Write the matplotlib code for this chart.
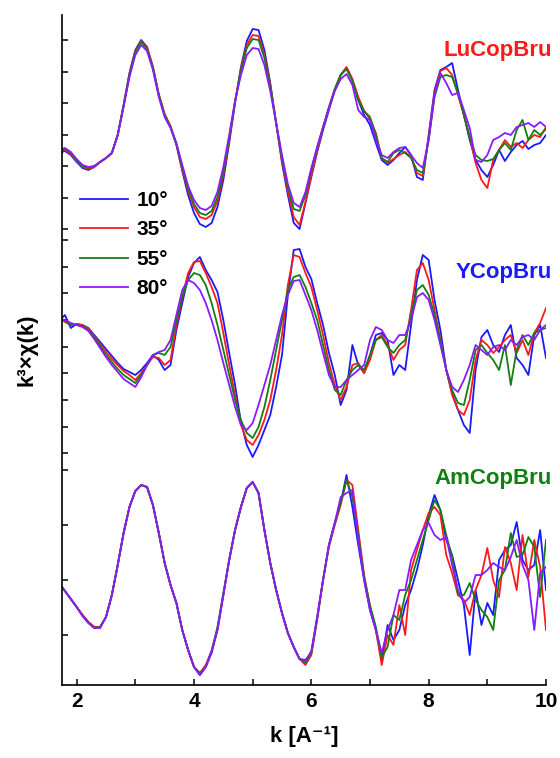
import matplotlib.pyplot as plt
import numpy as np

plt.rcParams['font.family'] = ['Liberation Sans', 'DejaVu Sans']
plt.rcParams['font.weight'] = 'bold'

# k grid [1/A]
k = np.concatenate([[1.75], np.round(np.arange(1.8, 10.05, 0.1), 2)])

angles = ['10°', '35°', '55°', '80°']
colors = ['#1a1aff', '#ff1a1a', '#108010', '#8a1aff']

# LuCopBru (arbitrary units)
lu_10 = [3, 4, 0, -7, -13, -15, -12, -7, -3, 2,
         20, 50, 82, 105, 115, 108, 88, 60, 40, 28,
         10, -16, -40, -58, -69, -72, -68, -52, -25, 12,
         52, 88, 114, 126, 125, 105, 72, 32, -8, -40,
         -68, -74, -48, -22, 3, 25, 45, 65, 80, 87,
         75, 55, 40, 30, 12, -5, -10, -5, 2, 8,
         0, -22, -25, 20, 65, 85, 88, 92, 65, 40,
         15, -5, -15, -22, -10, 5, -6, 3, 10, 14,
         6, 10, 12, 20]
lu_35 = [4, 5, 1, -6, -12, -14, -12, -7, -3, 2,
         20, 50, 81, 104, 114, 107, 88, 61, 41, 29,
         11, -14, -36, -52, -62, -64, -60, -46, -20, 15,
         53, 86, 110, 120, 119, 100, 70, 32, -6, -36,
         -62, -70, -47, -20, 5, 27, 47, 66, 80, 88,
         76, 58, 44, 36, 22, -3, -8, -4, 0, 3,
         -2, -18, -21, 18, 62, 84, 87, 80, 60, 40,
         18, -8, -25, -33, -5, 5, 15, 8, 12, 7,
         15, 20, 18, 28]
lu_55 = [5, 6, 2, -5, -11, -13, -11, -7, -3, 2,
         20, 49, 80, 103, 113, 106, 87, 60, 40, 28,
         11, -12, -34, -49, -58, -60, -56, -42, -17, 17,
         54, 84, 107, 116, 115, 97, 68, 32, -3, -32,
         -54, -56, -40, -15, 8, 28, 48, 66, 80, 86,
         74, 55, 44, 38, 20, -3, -7, 2, 5, 2,
         -3, -15, -18, 15, 58, 78, 80, 78, 62, 40,
         18, 0, -5, -6, -4, 5, 12, 5, 25, 35,
         15, 25, 20, 26]
lu_80 = [6, 7, 3, -4, -10, -12, -11, -7, -3, 2,
         20, 48, 78, 100, 110, 104, 85, 58, 38, 27,
         12, -10, -31, -45, -53, -55, -51, -37, -12, 20,
         54, 80, 100, 107, 106, 90, 64, 32, 0, -29,
         -48, -52, -37, -13, 8, 28, 47, 64, 76, 81,
         70, 45, 38, 35, 15, 0, -3, 3, 7, 8,
         0, -8, -13, 15, 60, 82, 72, 60, 62, 45,
         27, -5, -7, 0, 15, 18, 22, 20, 28, 30,
         32, 28, 33, 28]

# YCopBru
y_10 = [7, 10, -3, 1, 0, -3, -10, -17, -24, -31,
        -38, -44, -47, -50, -45, -38, -30, -35, -45, -40,
        -5, 22, 48, 62, 68, 55, 45, 33, 5, -28,
        -60, -97, -120, -132, -120, -105, -90, -62, -30, 30,
        75, 76, 58, 46, 22, 0, -28, -50, -80, -65,
        -20, -40, -48, -30, -10, -8, -15, -50, -40, -45,
        0, 45, 70, 65, 25, -5, -45, -68, -85, -100,
        -108, -45, -12, -5, -20, -27, -10, 0, -33, -40,
        -50, -10, 0, -33]
y_35 = [6, 3, 0, 1, 0, -4, -11, -19, -27, -34,
        -40, -46, -50, -55, -48, -40, -32, -33, -40, -35,
        0, 28, 52, 63, 64, 52, 38, 22, -8, -40,
        -70, -100, -115, -120, -110, -95, -75, -45, -10, 40,
        70, 68, 52, 38, 15, -10, -38, -60, -75, -62,
        -40, -38, -48, -35, -15, -10, -20, -35, -25, -20,
        15, 55, 62, 45, 15, -15, -45, -70, -85, -90,
        -75, -35, -15, -20, -28, -22, -15, -10, -28, -15,
        -30, -8, 2, 17]
y_55 = [5, 4, 0, 0, -1, -5, -12, -21, -30, -37,
        -44, -50, -54, -58, -50, -40, -30, -28, -30, -22,
        5, 28, 45, 52, 50, 40, 22, 0, -25, -50,
        -75, -95, -108, -113, -102, -82, -55, -25, 5, 35,
        48, 50, 38, 22, 5, -20, -45, -65, -70, -55,
        -45, -40, -45, -30, -15, -12, -22, -28, -20, -15,
        10, 35, 40, 30, 10, -15, -45, -65, -78, -80,
        -55, -25, -20, -28, -35, -45, -20, -60, -25, -10,
        -20, -8, -5, -3]
y_80 = [4, 5, 2, 0, -2, -6, -14, -23, -32, -40,
        -47, -54, -58, -62, -52, -40, -30, -27, -25, -15,
        10, 35, 45, 42, 35, 22, 5, -15, -38, -60,
        -82, -100, -105, -98, -80, -60, -40, -15, 10, 30,
        44, 45, 30, 15, -5, -28, -50, -62, -62, -55,
        -50, -45, -40, -15, -2, -5, -15, -18, -10, -10,
        5, 28, 32, 25, 5, -20, -45, -62, -67, -55,
        -40, -20, -25, -30, -22, -20, -25, -15, -20, -12,
        -10, -15, -5, 0]

# AmCopBru
am_10 = [-2, -6, -14, -22, -30, -37, -42, -42, -32, -10,
         20, 52, 78, 94, 100, 98, 80, 52, 22, 0,
         -18, -45, -65, -82, -90, -82, -68, -45, -10, 25,
         55, 78, 97, 103, 92, 55, 22, -5, -28, -48,
         -62, -74, -75, -68, -32, 5, 40, 62, 82, 110,
         78, 40, 5, -25, -45, -75, -40, -55, -45, -20,
         -5, 15, 40, 70, 90, 75, 45, 30, 5, -20,
         -70, -5, -40, -18, -30, 25, 35, 40, 63, 25,
         15, 20, 55, -5]
am_35 = [-2, -6, -14, -22, -30, -37, -42, -42, -32, -10,
         20, 52, 78, 94, 100, 98, 80, 52, 22, 0,
         -18, -45, -65, -82, -88, -80, -66, -45, -10, 25,
         55, 78, 97, 103, 92, 55, 22, -5, -28, -48,
         -62, -74, -80, -70, -35, 5, 38, 60, 80, 105,
         100, 55, 10, -22, -45, -80, -50, -60, -20, -50,
         15, 35, 55, 72, 78, 70, 30, 12, -10, -15,
         -30, -5, 10, 37, 5, -12, 38, 22, -5, 50,
         8, 45, 18, -45]
am_55 = [-2, -6, -14, -22, -31, -38, -43, -42, -32, -10,
         20, 52, 78, 94, 100, 98, 80, 52, 22, 0,
         -18, -45, -65, -82, -88, -82, -66, -42, -8, 25,
         55, 78, 97, 103, 92, 55, 22, -5, -28, -48,
         -62, -74, -78, -68, -33, 5, 40, 62, 82, 105,
         88, 50, 8, -20, -42, -72, -62, -30, -35, -10,
         5, 25, 45, 65, 85, 75, 50, 28, -10, -10,
         2, -15, -25, -32, -45, 5, 15, 52, 28, 30,
         48, 38, -12, 45]
am_80 = [-2, -6, -14, -22, -31, -38, -43, -43, -32, -10,
         20, 52, 78, 94, 100, 98, 80, 52, 22, 0,
         -18, -45, -65, -82, -90, -82, -66, -44, -10, 25,
         55, 78, 97, 103, 92, 55, 22, -5, -28, -48,
         -62, -74, -76, -66, -32, 5, 40, 62, 88, 92,
         95, 45, 5, -25, -45, -68, -45, -30, -5, -5,
         25, 40, 55, 62, 50, 45, 48, 20, -5, -18,
         -12, 10, 10, 15, 22, 18, 15, 28, 45, 20,
         5, -45, 12, 18]

samples = ['LuCopBru', 'YCopBru', 'AmCopBru']
sample_colors = ['#ff1a1a', '#1a1aff', '#108010']
offsets = [530, 360, 100]
series = [[lu_10, lu_35, lu_55, lu_80],
          [y_10, y_35, y_55, y_80],
          [am_10, am_35, am_55, am_80]]
label_y = [635, 413, 207]

fig = plt.figure(figsize=(5.6, 7.58), dpi=100)
ax = fig.add_axes([0.1107, 0.0963, 0.8643, 0.8839])

for g in range(3):
    for i in range(4):
        ax.plot(k, np.array(series[g][i]) + offsets[g], color=colors[i], lw=1.3,
                solid_joinstyle='round', label=angles[i] if g == 0 else None)
    ax.text(10.1, label_y[g], samples[g], color=sample_colors[g], fontsize=16,
            fontweight='bold', ha='right', va='center', clip_on=False)

ax.set_xlim(1.75, 10)
ax.set_ylim(0, 670)
ax.set_xticks([2, 4, 6, 8, 10])
ax.set_xticks([3, 5, 7, 9], minor=True)
ax.set_yticks([645, 613, 582, 550, 519, 487, 456,
               445, 418, 392, 365, 338, 312, 285, 258, 232,
               215, 160, 105, 50])
ax.set_yticklabels([])
ax.tick_params(axis='both', which='both', direction='in', length=4.5, width=1.1)
ax.tick_params(axis='x', labelsize=15, pad=5)
for s in ['top', 'right']:
    ax.spines[s].set_visible(False)
for s in ['left', 'bottom']:
    ax.spines[s].set_linewidth(1.2)

ax.set_xlabel('k [A⁻¹]', fontsize=16, fontweight='bold', labelpad=11)
ax.set_ylabel('k³×χ(k)', fontsize=16, fontweight='bold', labelpad=14)

ax.legend(loc='upper left', bbox_to_anchor=(0.143, 0.748), bbox_transform=fig.transFigure,
          frameon=False, fontsize=15, handlelength=2.3, handletextpad=0.4,
          labelspacing=0.5, borderpad=0, borderaxespad=0)

fig.savefig('out.png', dpi=100)
